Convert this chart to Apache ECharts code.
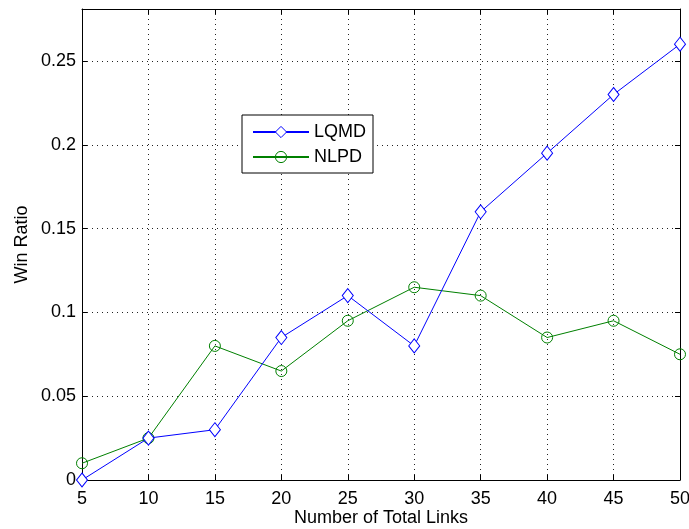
<!DOCTYPE html>
<html>
<head>
<meta charset="utf-8">
<script src="https://cdn.jsdelivr.net/npm/echarts@6/dist/echarts.min.js"></script>
<style>
html,body{margin:0;padding:0;background:#fff;}
#chart{width:689px;height:529px;}
</style>
</head>
<body>
<div id="chart"></div>
<script>
const categories = [5, 10, 15, 20, 25, 30, 35, 40, 45, 50];
const lqmd = [0, 0.025, 0.03, 0.085, 0.11, 0.08, 0.16, 0.195, 0.23, 0.26];
const nlpd = [0.01, 0.025, 0.08, 0.065, 0.095, 0.115, 0.11, 0.085, 0.095, 0.075];
const yTicks = [0, 0.05, 0.1, 0.15, 0.2, 0.25];

const FONT = 'Liberation Sans, Arial, Helvetica, sans-serif';
const FS = 18;
const chart = echarts.init(document.getElementById('chart'), null, {renderer: 'canvas'});

const gridLine = {show: true, lineStyle: {color: '#222', type: [1, 4], width: 1}};
const axisLine = {show: true, onZero: false, lineStyle: {color: '#000', width: 1}};
const tick = {show: true, inside: true, length: 5, lineStyle: {color: '#000', width: 1}};

function pairs(arr) { return categories.map((c, i) => [c, arr[i]]); }

chart.setOption({
  animation: false,
  backgroundColor: '#fff',
  textStyle: {fontFamily: FONT},
  grid: {left: 82, right: 9, top: 9, bottom: 49, containLabel: false, outerBoundsMode: 'none'},
  legend: {
    left: 242, top: 115, orient: 'vertical',
    backgroundColor: '#fff', borderColor: '#000', borderWidth: 1,
    padding: [8, 7, 7, 10], itemGap: 7, itemWidth: 56, itemHeight: 14,
    textStyle: {fontFamily: FONT, fontSize: FS, color: '#000'},
    itemStyle: {borderWidth: 1},
    data: ['LQMD', 'NLPD']
  },
  xAxis: [
    {
      type: 'value', min: 5, max: 50, interval: 5, position: 'bottom',
      name: 'Number of Total Links', nameLocation: 'middle', nameGap: 29, nameMoveOverlap: false,
      nameTextStyle: {fontFamily: FONT, fontSize: FS, color: '#000'},
      axisLine: axisLine, axisTick: tick,
      axisLabel: {fontFamily: FONT, fontSize: FS, color: '#000', margin: 10},
      splitLine: gridLine
    },
    {
      type: 'value', min: 5, max: 50, interval: 5, position: 'top',
      axisLine: axisLine, axisTick: tick, axisLabel: {show: false}, splitLine: {show: false}
    }
  ],
  yAxis: [
    {
      type: 'value', min: 0, max: 0.281, interval: 0.05, position: 'left',
      name: 'Win Ratio', nameLocation: 'middle', nameGap: 51, nameMoveOverlap: false,
      nameTextStyle: {fontFamily: FONT, fontSize: FS, color: '#000'},
      axisLine: axisLine, axisTick: tick,
      axisLabel: {fontFamily: FONT, fontSize: FS, color: '#000', margin: 6, showMaxLabel: false,
        formatter: v => yTicks.some(t => Math.abs(t - v) < 1e-9) ? String(+v.toFixed(2)) : ''},
      splitLine: gridLine
    },
    {
      type: 'value', min: 0, max: 0.281, interval: 0.05, position: 'right',
      axisLine: axisLine, axisTick: tick, axisLabel: {show: false}, splitLine: {show: false}
    }
  ],
  series: [
    {
      name: 'LQMD', type: 'line', data: pairs(lqmd),
      symbol: 'diamond', symbolSize: [11, 14], showSymbol: true,
      lineStyle: {color: '#0000ff', width: 1},
      itemStyle: {color: '#fff', borderColor: '#0000ff', borderWidth: 1},
      z: 3
    },
    {
      name: 'NLPD', type: 'line', data: pairs(nlpd),
      symbol: 'circle', symbolSize: 11, showSymbol: true,
      lineStyle: {color: '#008000', width: 1},
      itemStyle: {color: 'rgba(0,0,0,0)', borderColor: '#008000', borderWidth: 1},
      z: 2
    }
  ]
});
</script>
</body>
</html>
